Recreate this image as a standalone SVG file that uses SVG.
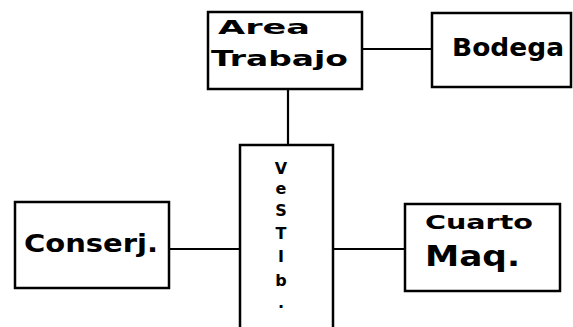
<svg xmlns="http://www.w3.org/2000/svg" width="573" height="327" viewBox="0 0 573 327">
<style>
.box{fill:#fff;stroke:#000;stroke-width:2.5}
.edge{stroke:#000;stroke-width:2.2;fill:none}
.t{font-family:"DejaVu Sans","Liberation Sans",sans-serif;font-weight:bold;fill:#000}
</style>
<rect width="573" height="327" fill="#fff"/>
<g id="connectors">
<line class="edge" x1="362" y1="49" x2="432" y2="49"/>
<line class="edge" x1="288" y1="89" x2="288" y2="145"/>
<line class="edge" x1="170" y1="249" x2="240" y2="249"/>
<line class="edge" x1="333" y1="249" x2="405" y2="249"/>
</g>
<g id="area">
<rect class="box" x="208" y="12" width="154" height="77"/>
<text class="t" x="218" y="34" font-size="20" textLength="92" lengthAdjust="spacingAndGlyphs">Area</text>
<text class="t" x="211" y="66" font-size="22" textLength="137" lengthAdjust="spacingAndGlyphs">Trabajo</text>
</g>
<g id="bodega">
<rect class="box" x="432" y="13" width="139" height="74"/>
<text class="t" x="452" y="56" font-size="24" textLength="112" lengthAdjust="spacingAndGlyphs">Bodega</text>
</g>
<g id="vestib">
<path class="box" d="M240,327 V145 H333 V327"/>
<g class="t" font-size="16" text-anchor="middle">
<text x="281" y="174">V</text>
<text x="281" y="194">e</text>
<text x="281" y="216">S</text>
<text x="281" y="239">T</text>
<text x="281" y="262">I</text>
<text x="281" y="286">b</text>
<text x="281" y="308">.</text>
</g>
</g>
<g id="conserj">
<rect class="box" x="15" y="202" width="154" height="86"/>
<text class="t" x="24" y="252" font-size="24" textLength="134" lengthAdjust="spacingAndGlyphs">Conserj.</text>
</g>
<g id="cuarto">
<rect class="box" x="405" y="204" width="155" height="87"/>
<text class="t" x="425" y="229" font-size="19" textLength="108" lengthAdjust="spacingAndGlyphs">Cuarto</text>
<text class="t" x="425" y="266" font-size="28" textLength="95" lengthAdjust="spacingAndGlyphs">Maq.</text>
</g>
</svg>
